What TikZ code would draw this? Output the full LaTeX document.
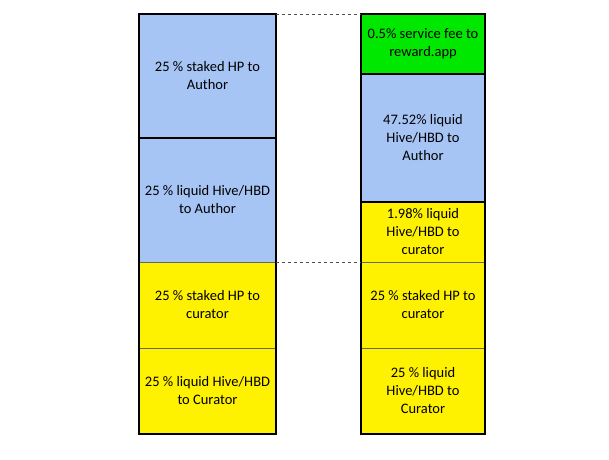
\documentclass[tikz,border=0pt]{standalone}
\usepackage{fontspec}
\setmainfont{Carlito}
\definecolor{authorblue}{RGB}{166,196,244}
\definecolor{feegreen}{RGB}{0,232,0}
\tikzset{
  cell/.style={align=center, inner sep=0pt,
    font=\fontsize{14.5}{18}\selectfont},
  thinline/.style={black!60, line width=0.5pt},
  thickline/.style={line width=1.5pt},
}
\begin{document}
\begin{tikzpicture}[x=1pt,y=-1pt]
\useasboundingbox (0,0) rectangle (609,459);
% left column
\fill[authorblue] (139,14) rectangle (276,262);
\fill[yellow] (139,262) rectangle (276,434);
\node[cell] (la) at (207.5,76) {25 \% staked HP to\\Author};
\node[cell] (lb) at (207.5,200) {25 \% liquid Hive/HBD\\to Author};
\node[cell] (lc) at (207.5,305) {25 \% staked HP to\\curator};
\node[cell] (ld) at (207.5,391) {25 \% liquid Hive/HBD\\to Curator};
\draw[thinline] (139,348) -- (276,348);
\draw[thinline] (139,262) -- (276,262);
\draw[thickline] (139,138) -- (276,138);
\draw[thickline] (139,14) rectangle (276,434);
% right column
\fill[feegreen] (361,14) rectangle (485,74);
\fill[authorblue] (361,74) rectangle (485,202);
\fill[yellow] (361,202) rectangle (485,434);
\node[cell] (ra) at (423,44) {0.5\% service fee to\\reward.app};
\node[cell] (rb) at (423,138) {47.52\% liquid\\Hive/HBD to\\Author};
\node[cell] (rc) at (423,232) {1.98\% liquid\\Hive/HBD to\\curator};
\node[cell] (rd) at (423,305) {25 \% staked HP to\\curator};
\node[cell] (re) at (423,391) {25 \% liquid\\Hive/HBD to\\Curator};
\draw[thinline] (361,262) -- (485,262);
\draw[thinline] (361,348) -- (485,348);
\draw[thickline] (361,74) -- (485,74);
\draw[thickline] (361,202) -- (485,202);
\draw[thickline] (361,14) rectangle (485,434);
% dashed links
\draw[dashed, black!70, line width=0.6pt] (276,14) -- (361,14);
\draw[dashed, black!70, line width=0.6pt] (276,262) -- (361,262);
\end{tikzpicture}
\end{document}
